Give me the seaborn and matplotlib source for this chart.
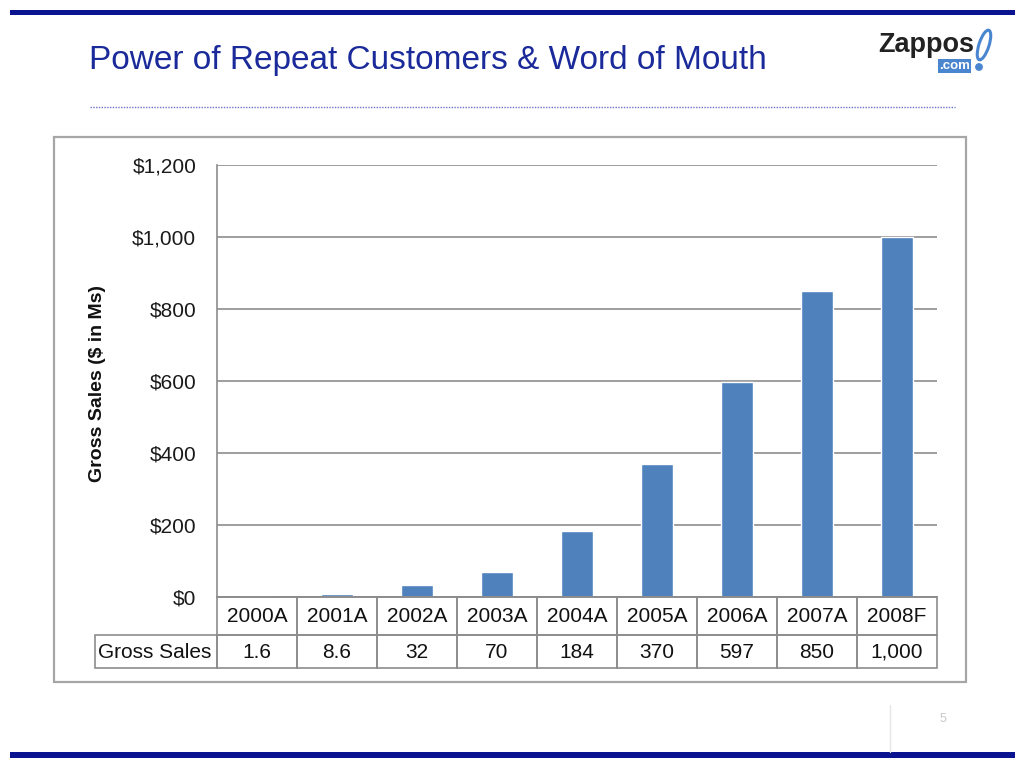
import numpy as np
import pandas as pd
import matplotlib
matplotlib.use("Agg")
import matplotlib.pyplot as plt
import seaborn as sns
from matplotlib.patches import Rectangle, Ellipse, Circle
from matplotlib.lines import Line2D
from matplotlib.transforms import IdentityTransform

# data
years = ["2000A", "2001A", "2002A", "2003A", "2004A", "2005A", "2006A", "2007A", "2008F"]
gross_sales = [1.6, 8.6, 32, 70, 184, 370, 597, 850, 1000]
sales_labels = ["1.6", "8.6", "32", "70", "184", "370", "597", "850", "1,000"]
y_ticks = [0, 200, 400, 600, 800, 1000, 1200]

W, H = 1024, 769

sns.set_theme(style="white")
plt.rcParams['font.family'] = ['Liberation Sans', 'DejaVu Sans']

fig = plt.figure(figsize=(W / 100, H / 100), dpi=100)
fig.patch.set_facecolor("white")


def fx(x):
    return x / W


def fy(y):
    return 1 - y / H


# slide decorations
navy = "#0A1490"
fig.add_artist(Rectangle((fx(10), fy(15)), fx(1005), 5 / H, color=navy, lw=0))
fig.add_artist(Rectangle((fx(10), fy(758)), fx(1005), 6 / H, color=navy, lw=0))
fig.text(fx(89), fy(60), "Power of Repeat Customers & Word of Mouth",
         color="#1A2A9A", fontsize=24, va="center", ha="left")
fig.add_artist(Line2D([fx(90), fx(955)], [fy(107), fy(107)], color="#6A74C8",
                      lw=1, ls=(0, (1, 1))))

# logo
fig.text(fx(878), fy(45), "Zappos", color="#222222", fontsize=19.5, fontweight="bold",
         va="center", ha="left")
fig.text(fx(970), fy(66), ".com", color="white", fontsize=9.5, fontweight="bold",
         va="center", ha="right",
         bbox=dict(boxstyle="square,pad=0.1", fc="#4A86D0", ec="none"))
# little shoe mark next to the logo (pixel coords, origin bottom-left)
fig.add_artist(Ellipse((984, H - 45), 10, 31, angle=-18, fill=False, ec="#4A86D0",
                       lw=2.2, transform=IdentityTransform()))
fig.add_artist(Circle((979, H - 67), 3.2, color="#4A86D0", transform=IdentityTransform()))

fig.text(fx(943), fy(719), "5", color="#C8C8C8", fontsize=9, ha="center", va="center")
fig.add_artist(Line2D([fx(890), fx(890)], [fy(705), fy(752)], color="#E6E6E6", lw=1))

# chart frame
fig.add_artist(Rectangle((fx(54), fy(682)), fx(912), (682 - 137) / H,
                         fill=False, ec="#A6A6A6", lw=1.6))

# plot area: x 217..937, y 165..597
ax = fig.add_axes([fx(217), fy(597), fx(720), (597 - 165) / H])
df = pd.DataFrame({"year": years, "sales": gross_sales})
sns.barplot(data=df, x="year", y="sales", color="#4F81BD", width=0.4,
            saturation=1, ax=ax)
ax.set_ylim(0, 1200)
ax.set_xlim(-0.5, len(years) - 0.5)
ax.set_yticks(y_ticks)
ax.set_yticklabels([f"${v:,}" for v in y_ticks], fontsize=15, color="#1A1A1A")
ax.tick_params(axis="y", length=0, pad=15)
ax.set_xticks([])
ax.set_xlabel("")
ax.set_ylabel("")
ax.yaxis.grid(True, color="#8C8C8C", lw=1.2)
ax.set_axisbelow(True)
for s in ["top", "right"]:
    ax.spines[s].set_visible(False)
for s in ["left", "bottom"]:
    ax.spines[s].set_color("#8C8C8C")
    ax.spines[s].set_linewidth(1.2)

fig.text(fx(98), fy(383), "Gross Sales ($ in Ms)", rotation=90, fontsize=14,
         fontweight="bold", ha="center", va="center", color="#111111")

# data table below the plot
tbl_color = "#8C8C8C"
col_w = 720 / len(years)
row1_top, row1_bot, row2_bot = 597, 635, 668
for i, (yr, lab) in enumerate(zip(years, sales_labels)):
    x0 = 217 + i * col_w
    fig.add_artist(Rectangle((fx(x0), fy(row1_bot)), fx(col_w),
                             (row1_bot - row1_top) / H, fill=False, ec=tbl_color, lw=1.2))
    fig.add_artist(Rectangle((fx(x0), fy(row2_bot)), fx(col_w),
                             (row2_bot - row1_bot) / H, fill=False, ec=tbl_color, lw=1.2))
    fig.text(fx(x0 + col_w / 2), fy((row1_top + row1_bot) / 2 + 1), yr,
             fontsize=15, ha="center", va="center", color="#111111")
    fig.text(fx(x0 + col_w / 2), fy((row1_bot + row2_bot) / 2 + 1), lab,
             fontsize=15, ha="center", va="center", color="#111111")
fig.add_artist(Rectangle((fx(95), fy(row2_bot)), fx(217 - 95),
                         (row2_bot - row1_bot) / H, fill=False, ec=tbl_color, lw=1.2))
fig.text(fx(155), fy((row1_bot + row2_bot) / 2 + 1), "Gross Sales",
         fontsize=15, ha="center", va="center", color="#111111")

fig.savefig("out.png", dpi=100)
